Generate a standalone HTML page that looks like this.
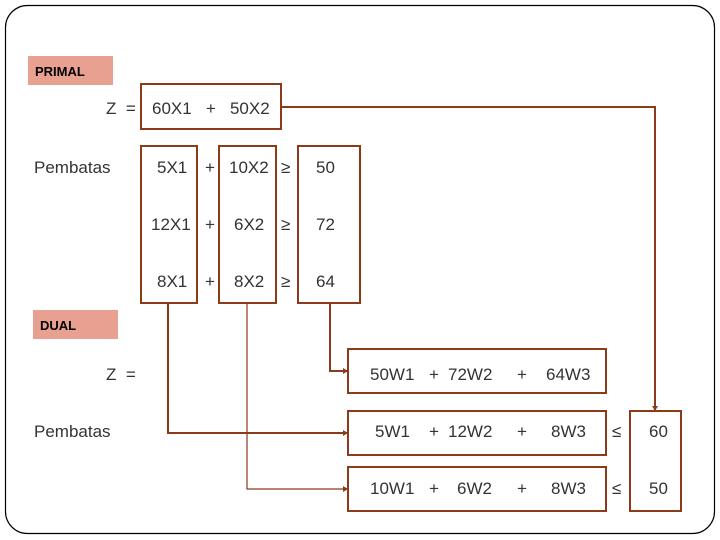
<!DOCTYPE html>
<html><head><meta charset="utf-8"><style>
html,body{margin:0;padding:0;background:#fff;width:720px;height:540px;overflow:hidden}
text{font-family:"Liberation Sans",sans-serif;font-size:17px;fill:#333;white-space:pre}
</style></head><body>
<svg width="720" height="540" viewBox="0 0 720 540" xmlns="http://www.w3.org/2000/svg" xml:space="preserve">
<defs><marker id="a" markerUnits="userSpaceOnUse" markerWidth="5" markerHeight="6" refX="4" refY="3" orient="auto"><path d="M0,0 L5,3 L0,6 z" fill="#8B3A1A"/></marker></defs>
<rect x="5.5" y="5.5" width="709" height="528" rx="22" fill="none" stroke="#000" stroke-width="1.2"/>
<rect x="28" y="56" width="85" height="29" fill="#e8a090"/>
<text x="35" y="76" style="font-size:13px;font-weight:bold;fill:#000">PRIMAL</text>
<rect x="33" y="310" width="85" height="29" fill="#e8a090"/>
<text x="40" y="330" style="font-size:13px;font-weight:bold;fill:#000">DUAL</text>
<g fill="none" stroke="#8B3A1A" stroke-width="2">
<rect x="141" y="84" width="140" height="45"/>
<rect x="141" y="146" width="56" height="157"/>
<rect x="219" y="146" width="57" height="157"/>
<rect x="298" y="146" width="62" height="157"/>
<rect x="348" y="349" width="258" height="44"/>
<rect x="348" y="411" width="258" height="44"/>
<rect x="348" y="467" width="258" height="44"/>
<rect x="630" y="411" width="51" height="100"/>
<polyline points="281,107 655,107 655,410" marker-end="url(#a)"/>
<polyline points="168,303 168,433 347,433" marker-end="url(#a)"/>
<polyline points="330,303 330,371 347,371" marker-end="url(#a)"/>
<polyline points="247,303 247,489 347,489" stroke-width="1.2" marker-end="url(#a)"/>
</g>
<text x="106" y="114">Z  =</text>
<text x="152" y="114">60X1   +   50X2</text>
<text x="34" y="173">Pembatas</text>
<text x="157" y="173">5X1</text><text x="205" y="173">+</text><text x="229" y="173">10X2</text><text x="281" y="173">≥</text><text x="316" y="173">50</text>
<text x="151" y="230">12X1</text><text x="205" y="230">+</text><text x="234" y="230">6X2</text><text x="281" y="230">≥</text><text x="316" y="230">72</text>
<text x="157" y="287">8X1</text><text x="205" y="287">+</text><text x="234" y="287">8X2</text><text x="281" y="287">≥</text><text x="316" y="287">64</text>
<text x="106" y="380">Z  =</text>
<text x="34" y="437">Pembatas</text>
<text x="370" y="380">50W1</text><text x="429" y="380">+</text><text x="448" y="380">72W2</text><text x="517" y="380">+</text><text x="546" y="380">64W3</text>
<text x="375" y="437">5W1</text><text x="429" y="437">+</text><text x="448" y="437">12W2</text><text x="517" y="437">+</text><text x="551" y="437">8W3</text>
<text x="370" y="494">10W1</text><text x="429" y="494">+</text><text x="457" y="494">6W2</text><text x="517" y="494">+</text><text x="551" y="494">8W3</text>
<text x="612" y="437">≤</text><text x="612" y="494">≤</text>
<text x="649" y="437">60</text><text x="649" y="494">50</text>
</svg>
</body></html>
